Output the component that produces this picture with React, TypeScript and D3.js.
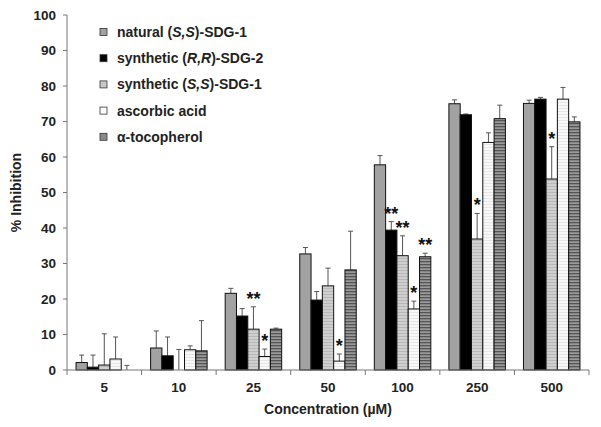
import React from "react";
import * as d3 from "d3";

const concentrations = ["5", "10", "25", "50", "100", "250", "500"];
const seriesNames = ["natural", "RR", "SSsyn", "ascorbic", "toco"];

const naturalSS = [2.1, 6.2, 21.6, 32.7, 57.8, 75.0, 75.1];
const naturalSSErr = [4.2, 11.0, 23.0, 34.5, 60.4, 76.1, 76.0];
const syntheticRR = [0.8, 4.0, 15.2, 19.7, 39.4, 71.9, 76.3];
const syntheticRRErr = [4.2, 9.3, 17.3, 22.1, 41.8, 72.1, 76.8];
const syntheticSS = [1.4, 0, 11.5, 23.7, 32.2, 36.9, 53.8];
const syntheticSSErr = [10.2, 5.8, 17.8, 28.7, 37.8, 44.1, 62.9];
const ascorbic = [3.1, 5.7, 3.8, 2.5, 17.2, 64.1, 76.3];
const ascorbicErr = [9.3, 6.8, 5.9, 4.5, 19.4, 66.8, 79.6];
const tocopherol = [0, 5.4, 11.5, 28.2, 31.9, 70.8, 69.9];
const tocopherolErr = [1.3, 13.9, 11.8, 39.1, 32.9, 74.6, 71.3];

// significance marks: [groupIndex, seriesIndex, label]
const stars: [number, number, string][] = [
  [2, 2, "**"],
  [2, 3, "*"],
  [3, 3, "*"],
  [4, 1, "**"],
  [4, 2, "**"],
  [4, 3, "*"],
  [4, 4, "**"],
  [5, 2, "*"],
  [6, 2, "*"],
];

const yTicks = [0, 10, 20, 30, 40, 50, 60, 70, 80, 90, 100];

const values = [naturalSS, syntheticRR, syntheticSS, ascorbic, tocopherol];
const errs = [naturalSSErr, syntheticRRErr, syntheticSSErr, ascorbicErr, tocopherolErr];
const fills = ["#a2a2a2", "#000000", "url(#pSS)", "url(#pAsc)", "url(#pToco)"];
const legendFills = ["#a2a2a2", "#000000", "#c8c8c8", "#ffffff", "#8a8a8a"];

const FONT = "Liberation Sans, Arial, sans-serif";

export default function App() {
  const W = 601, H = 427;
  const x0 = 67, x1 = 589, yTop = 15, yBot = 370;
  const x = d3.scaleBand<string>().domain(concentrations).range([x0, x1]).padding(0);
  const bw = x.bandwidth();
  const barsW = 56.5;
  const xi = d3
    .scaleBand<string>()
    .domain(seriesNames)
    .range([(bw - barsW) / 2, (bw + barsW) / 2])
    .padding(0);
  const y = d3.scaleLinear().domain([0, 100]).range([yBot, yTop]);
  const barW = xi.bandwidth();

  const legendLabels: React.ReactNode[] = [
    <>natural (<tspan fontStyle="italic">S,S</tspan>)-SDG-1</>,
    <>synthetic (<tspan fontStyle="italic">R,R</tspan>)-SDG-2</>,
    <>synthetic (<tspan fontStyle="italic">S,S</tspan>)-SDG-1</>,
    <>ascorbic acid</>,
    <>α-tocopherol</>,
  ];

  return (
    <svg
      width={W}
      height={H}
      style={{ position: "absolute", left: 0, top: 0, background: "#fff" }}
      fontFamily={FONT}
    >
      <defs>
        <pattern id="pSS" width="4" height="3" patternUnits="userSpaceOnUse">
          <rect width="4" height="3" fill="#cfcfcf" />
          <rect width="4" height="1" fill="#b8b8b8" />
        </pattern>
        <pattern id="pAsc" width="4" height="3" patternUnits="userSpaceOnUse">
          <rect width="4" height="3" fill="#f8f8f8" />
          <rect width="4" height="1" fill="#e6e6e6" />
        </pattern>
        <pattern id="pToco" width="4" height="3" patternUnits="userSpaceOnUse">
          <rect width="4" height="3" fill="#9a9a9a" />
          <rect width="4" height="1.3" fill="#555555" />
        </pattern>
      </defs>

      {/* Y axis */}
      <line x1={x0} x2={x0} y1={yTop} y2={yBot} stroke="#777" strokeWidth={1} />
      {yTicks.map((t) => (
        <g key={t}>
          <line x1={x0 - 4} x2={x0} y1={y(t)} y2={y(t)} stroke="#777" />
          <text
            x={56}
            y={y(t)}
            dy="0.35em"
            textAnchor="end"
            fontSize={13.5}
            fontWeight="bold"
            fill="#222"
          >
            {t}
          </text>
        </g>
      ))}
      <text
        transform={`translate(21,${(yTop + yBot) / 2}) rotate(-90)`}
        textAnchor="middle"
        fontSize={14}
        fontWeight="bold"
        fill="#222"
      >
        % Inhibition
      </text>

      {/* bars */}
      {concentrations.map((c, gi) => (
        <g key={c} transform={`translate(${x(c)},0)`}>
          {seriesNames.map((s, si) => {
            const v = values[si][gi];
            const e = errs[si][gi];
            const bx = xi(s)!;
            const cx = bx + barW / 2;
            return (
              <g key={s}>
                <line x1={cx} x2={cx} y1={y(v)} y2={y(e)} stroke="#555" strokeWidth={1} />
                <line x1={cx - 2.5} x2={cx + 2.5} y1={y(e)} y2={y(e)} stroke="#555" strokeWidth={1} />
                {v > 0 && (
                  <rect
                    x={bx}
                    y={y(v)}
                    width={barW}
                    height={y(0) - y(v)}
                    fill={fills[si]}
                    stroke="#111"
                    strokeWidth={1}
                  />
                )}
              </g>
            );
          })}
        </g>
      ))}

      {/* stars */}
      {stars.map(([gi, si, lab], i) => {
        const cx = x(concentrations[gi])! + xi(seriesNames[si])! + barW / 2;
        return (
          <text
            key={i}
            x={cx}
            y={y(errs[si][gi]) - 2}
            textAnchor="middle"
            fontSize={18}
            fontWeight="bold"
            fill="#111"
          >
            {lab}
          </text>
        );
      })}

      {/* X axis */}
      <line x1={x0} x2={x1} y1={yBot} y2={yBot} stroke="#777" strokeWidth={1} />
      {concentrations.map((c) => (
        <line key={c} x1={x(c)} x2={x(c)} y1={yBot} y2={yBot + 5} stroke="#777" />
      ))}
      <line x1={x1} x2={x1} y1={yBot} y2={yBot + 5} stroke="#777" />
      {concentrations.map((c) => (
        <text
          key={c}
          x={x(c)! + bw / 2}
          y={392}
          textAnchor="middle"
          fontSize={13.5}
          fontWeight="bold"
          fill="#222"
        >
          {c}
        </text>
      ))}
      <text x={328} y={414} textAnchor="middle" fontSize={14} fontWeight="bold" fill="#222">
        Concentration (µM)
      </text>

      {/* legend */}
      {legendLabels.map((lab, i) => {
        const ly = 32 + i * 26.2;
        return (
          <g key={i}>
            <rect
              x={100}
              y={ly - 3.5}
              width={7}
              height={7}
              fill={legendFills[i]}
              stroke="#333"
              strokeWidth={0.8}
            />
            <text x={117} y={ly} dy="0.35em" fontSize={14} fontWeight="bold" fill="#222">
              {lab}
            </text>
          </g>
        );
      })}
    </svg>
  );
}
